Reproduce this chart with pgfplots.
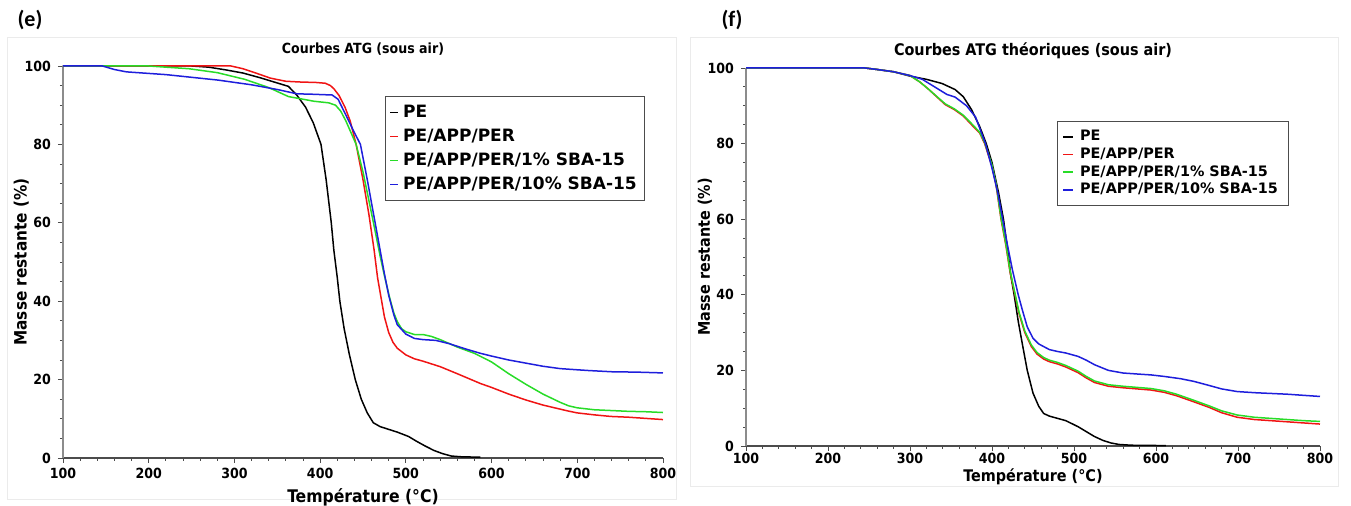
\documentclass[border=0pt]{standalone}
\usepackage{pgfplots}
\pgfplotsset{compat=1.18}
\usepackage{fontspec}
\setmainfont{DejaVu Sans Condensed}
\newfontfamily\widefont{DejaVu Sans}
\newfontfamily\labfont{Carlito}
\definecolor{cgreen}{RGB}{40,220,40}
\definecolor{cred}{RGB}{240,20,20}
\definecolor{cblue}{RGB}{30,30,220}
\pgfplotsset{
  atg/.style={
    scale only axis,
    axis x line*=bottom, axis y line*=left,
    x axis line style={black!70, line width=0.6pt},
    y axis line style={black!45, line width=0.6pt},
    tick align=outside,
    major tick length=2.5pt, minor tick length=1.5pt,
    every tick/.style={black!70, line width=0.4pt},
    xmin=100, xmax=800, ymin=0, ymax=100,
    xtick={100,200,...,800}, ytick={0,20,...,100},
    minor x tick num=4, minor y tick num=3,
    /pgf/number format/assume math mode=true,
    tick label style={font=\fontsize{7}{8}\selectfont\bfseries},
    xlabel={Température (°C)},
    ylabel={Masse restante (\%)},
    clip=false,
    every axis plot/.append style={line width=0.75pt},
    legend cell align=left,
  }
}
\begin{document}
\begin{tikzpicture}
\path[use as bounding box] (0pt,0pt) rectangle (675.5pt,253pt);
\draw[black!8, line width=0.5pt] (3.5pt,3pt) rectangle (338pt,234pt);
\draw[black!8, line width=0.5pt] (345pt,9.5pt) rectangle (669pt,234pt);
\node[font=\labfont\fontsize{11}{12}\selectfont\bfseries] at (15pt,243pt) {(e)};
\node[font=\labfont\fontsize{11}{12}\selectfont\bfseries] at (366pt,243pt) {(f)};
\begin{axis}[atg, at={(31.5pt,24pt)}, anchor=south west, width=300pt, height=196pt,
  title={Courbes ATG (sous air)},
  title style={font=\fontsize{7}{8}\selectfont\bfseries, yshift=-4pt},
  xticklabel style={yshift=1pt},
  xlabel style={yshift=2pt, font=\fontsize{8.7}{9}\selectfont\bfseries},
  ylabel style={yshift=-9pt, font=\fontsize{8.5}{9}\selectfont\bfseries},
  legend image code/.code={\draw[#1, line width=0.75pt] (0pt,0pt) -- (4pt,0pt);},
  legend style={at={(0.537,0.923)}, anchor=north west, draw=black!70, line width=0.5pt,
    font=\widefont\fontsize{8.5}{9.5}\selectfont\bfseries, row sep=0.3pt, inner sep=2pt}]
\addplot[black] coordinates {(100,100)(250,100)(270,99.7)(290,99)(310,98.2)(330,97)(345,96)(363,94.8)(373,92.5)(383,89.5)(392,85.5)(401,80)(407,71)(413,60)(416,53)(420,46)(423,40)(428,33)(434,26.5)(441,20)(448,15)(455,11.5)(462,9)(470,8)(480,7.3)(490,6.6)(503,5.5)(513,4.2)(523,3)(533,1.9)(543,1.1)(553,0.5)(565,0.3)(587,0.2)};
\addplot[cred] coordinates {(100,100)(296,100)(310,99.3)(325,98.2)(342,96.9)(360,96.1)(378,95.9)(395,95.8)(406,95.6)(412,95)(416,94.2)(422,92.5)(429,89.5)(435,86)(442,80)(450,71)(457,62)(463,53)(467,46)(471,41)(475,36)(480,32)(485,29.5)(490,28)(500,26.3)(510,25.3)(520,24.7)(540,23.3)(560,21.5)(587,19)(600,18)(620,16.3)(640,14.8)(660,13.5)(689,12)(700,11.5)(720,11)(739,10.6)(760,10.4)(780,10.1)(800,9.8)};
\addplot[cgreen] coordinates {(100,100)(200,100)(247,99.3)(280,98.3)(312,96.6)(340,94.5)(363,92.2)(393,91)(410,90.6)(418,90)(424,88.5)(430,86)(436,83)(442,80)(450,73)(458,64.5)(465,57)(470,51.5)(475,46.5)(481,41)(486,37)(490,34.8)(495,33)(500,32.2)(510,31.5)(520,31.5)(530,31)(540,30.2)(560,28.3)(580,26.7)(600,24.5)(620,21.5)(640,18.8)(660,16.3)(680,14.2)(690,13.3)(700,12.8)(720,12.3)(740,12.1)(760,11.9)(780,11.8)(800,11.6)};
\addplot[cblue] coordinates {(100,100)(146,100)(160,99.1)(174,98.5)(220,97.8)(281,96.4)(320,95.2)(350,94)(373,92.9)(390,92.8)(414,92.6)(421,91.5)(430,87.5)(440,83)(447,80)(455,71)(460,65)(465,59)(470,53)(475,47)(480,41.5)(486,36.5)(490,34)(500,31.6)(510,30.5)(520,30.2)(535,30)(550,29.2)(570,27.8)(587,26.7)(600,26)(620,25)(640,24.2)(660,23.4)(680,22.8)(700,22.5)(714,22.3)(740,22)(770,21.9)(800,21.7)};
\legend{PE, PE/APP/PER, PE/APP/PER/1\% SBA-15, PE/APP/PER/10\% SBA-15}
\end{axis}
\begin{axis}[atg, at={(373pt,30pt)}, anchor=south west, width=287pt, height=189pt,
  title={Courbes ATG théoriques (sous air)},
  title style={font=\fontsize{8}{9}\selectfont\bfseries, yshift=-5pt},
  xticklabel style={yshift=2.5pt},
  xlabel style={yshift=4.5pt, font=\fontsize{8}{9}\selectfont\bfseries},
  ylabel style={yshift=-9pt, font=\fontsize{8}{9}\selectfont\bfseries},
  legend image code/.code={\draw[#1, line width=0.75pt] (0pt,0pt) -- (5pt,0pt);},
  legend style={at={(0.542,0.86)}, anchor=north west, draw=black!70, line width=0.5pt,
    font=\widefont\fontsize{7.2}{8}\selectfont\bfseries, row sep=-2pt, inner sep=2.5pt,
    nodes={inner xsep=3pt}}]
\addplot[black] coordinates {(100,100)(245,100)(260,99.6)(280,99)(301,97.8)(320,97)(339,95.9)(355,94.3)(365,92.4)(375,89)(385,84.5)(393,80)(400,75)(408,67)(414,60)(419,52)(423,45)(427,40)(432,33)(437,27)(443,20)(450,14)(457,10.5)(463,8.6)(470,7.9)(480,7.3)(490,6.7)(505,5.1)(515,3.8)(525,2.5)(535,1.5)(545,0.8)(555,0.4)(570,0.2)(612,0.1)};
\addplot[cred] coordinates {(100,100)(245,100)(260,99.6)(280,99)(300,98)(312,96.3)(322,94.5)(333,92.3)(343,90.3)(354,89)(365,87.3)(375,85)(385,82.8)(391,80)(400,74)(405,69)(411,60)(417,53)(422,46)(428,40)(433,35)(440,30)(448,26.3)(455,24.3)(463,23)(470,22.3)(480,21.7)(490,20.9)(505,19.4)(515,18)(525,16.8)(542,15.8)(560,15.4)(594,14.8)(610,14.2)(625,13.3)(646,11.7)(665,10.2)(680,8.8)(699,7.6)(720,7)(740,6.7)(760,6.4)(780,6.1)(800,5.8)};
\addplot[cgreen] coordinates {(100,100)(245,100)(260,99.6)(280,99)(300,98)(312,96.3)(322,94.5)(333,92.4)(343,90.5)(354,89.2)(365,87.5)(375,85.3)(385,83)(391,80.3)(400,74.3)(405,69.3)(411,60.4)(417,53.4)(422,46.4)(428,40.4)(433,35.4)(440,30.4)(448,26.7)(455,24.7)(463,23.4)(470,22.7)(480,22.1)(490,21.3)(505,19.8)(515,18.4)(525,17.2)(542,16.2)(560,15.8)(594,15.2)(610,14.6)(625,13.7)(646,12.1)(665,10.6)(680,9.3)(699,8.2)(720,7.6)(740,7.3)(760,7)(780,6.7)(800,6.5)};
\addplot[cblue] coordinates {(100,100)(245,100)(260,99.6)(280,99)(300,98)(315,97)(333,94.6)(345,93)(355,92.3)(369,90)(380,87)(392,80)(400,73.5)(407,67)(413,60)(419,53)(425,46.5)(432,40)(437,36)(443,31.5)(450,28.5)(457,27)(463,26.3)(470,25.5)(480,25)(490,24.6)(505,23.7)(515,22.7)(525,21.5)(542,20)(560,19.3)(580,19)(594,18.8)(610,18.4)(630,17.8)(646,17.1)(665,16)(680,15.1)(699,14.4)(720,14.1)(740,13.9)(760,13.7)(780,13.4)(800,13.1)};
\legend{PE, PE/APP/PER, PE/APP/PER/1\% SBA-15, PE/APP/PER/10\% SBA-15}
\end{axis}
\end{tikzpicture}
\end{document}
